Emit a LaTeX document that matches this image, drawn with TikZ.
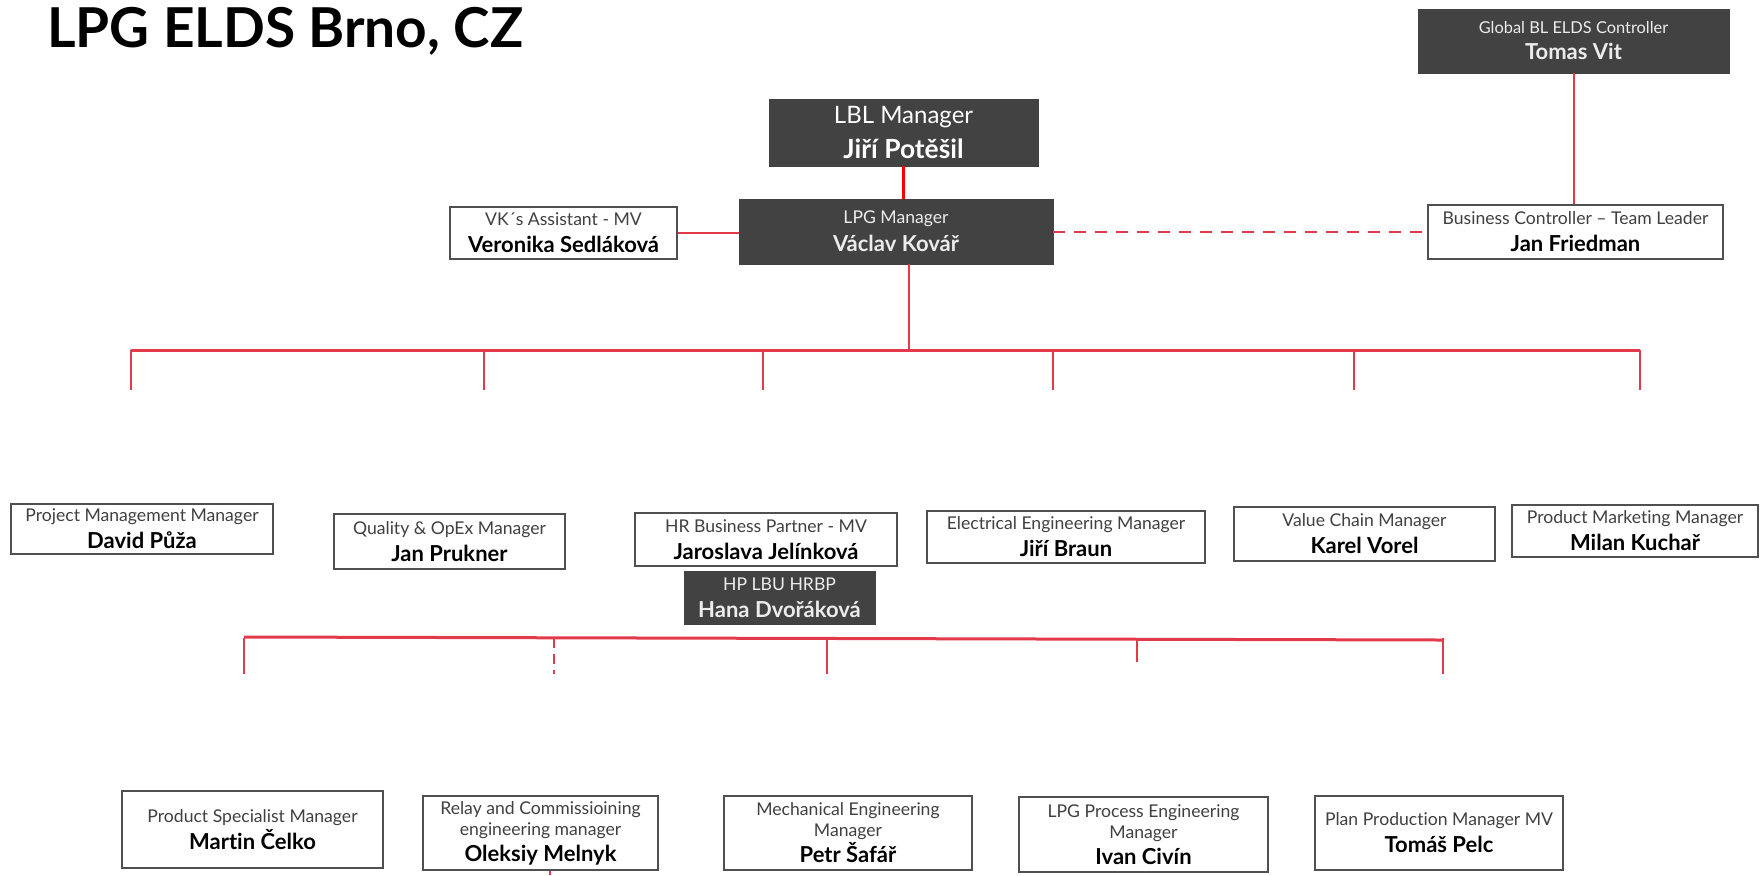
\documentclass[tikz,border=0pt]{standalone}
\usepackage{fontspec}
\setmainfont{Lato}[Ligatures={NoCommon}]
\usetikzlibrary{positioning}

\newlength{\du}
\setlength{\du}{0.5pt}

\definecolor{boxdark}{RGB}{66,66,66}
\definecolor{boxline}{RGB}{80,80,80}
\definecolor{linered}{RGB}{226,58,74}
\definecolor{rolegray}{RGB}{64,64,64}
\definecolor{lighttext}{RGB}{236,236,236}

% role on top, name in bold below
\newcommand{\rolefont}{\fontsize{8.8}{10.5}\selectfont}
\newcommand{\namefont}{\fontsize{11}{13}\selectfont\bfseries\color{black}}
\newcommand{\orgtext}[2]{{\rolefont #1}\\[1.5pt]{\namefont #2}}
\newcommand{\orgtextii}[3]{{\rolefont #1}\\[-1.5pt]{\rolefont #2}\\[1pt]{\namefont #3}}

\begin{document}
\begin{tikzpicture}[yscale=-1,
  whitebox/.style={draw=boxline, line width=2\du, fill=white, align=center,
    text=rolegray, inner sep=0pt},
  darkbox/.style={draw=boxdark, fill=boxdark, align=center, text=lighttext, inner sep=0pt},
  redline/.style={draw=linered, line width=2\du},
  busline/.style={draw=linered, line width=3\du}]
\useasboundingbox (0,0) rectangle (1760\du,875\du);

% title
\node[anchor=west, font=\fontsize{27.5}{32}\selectfont\bfseries] (title) at (40\du,31\du) {LPG ELDS Brno, CZ};

% top level
\node[darkbox, minimum width=311\du, minimum height=64\du] (glob) at (1573.5\du,41\du)
  {{\fontsize{8.2}{10}\selectfont Global BL ELDS Controller}\\[1pt]{\fontsize{11}{13}\selectfont\bfseries Tomas Vit}};
\node[darkbox, minimum width=269\du, minimum height=67\du, text=white] (lbl) at (903.5\du,132.5\du)
  {{\fontsize{12}{14}\selectfont LBL Manager}\\[5.5pt]{\fontsize{13.2}{15}\selectfont\bfseries Jiří Potěšil}};
\node[darkbox, minimum width=314\du, minimum height=65\du] (lpg) at (896\du,231.5\du)
  {{\fontsize{8.8}{10.5}\selectfont LPG Manager}\\[2pt]{\fontsize{11}{13}\selectfont\bfseries Václav Kovář}};
\node[whitebox, minimum width=227\du, minimum height=52\du] (vka) at (563.5\du,233\du)
  {\orgtext{VK´s Assistant - MV}{Veronika Sedláková}};
\node[whitebox, minimum width=295\du, minimum height=54\du] (bc) at (1575.5\du,232\du)
  {\orgtext{Business Controller – Team Leader}{Jan Friedman}};

\draw[redline] (vka.east) -- (vka.east -| lpg.west);
\draw[draw=red, line width=3\du] (lbl.south) -- (lbl.south |- lpg.north);
\draw[redline, dash pattern=on 12\du off 9\du] (lpg.east |- bc.west) -- (bc.west);
\draw[redline] (glob.south) -- (glob.south |- bc.north);

% first bus
\coordinate (bus1) at (909\du,350\du);
\coordinate (bus1L) at (131\du,350\du);
\coordinate (bus1R) at (1640\du,350\du);
\draw[redline] (bus1 |- lpg.south) -- (bus1);
\draw[busline] (bus1L) -- (bus1R);
\foreach \x/\n in {131/a,484/b,763/c,1053/d,1354/e,1640/f}{
  \coordinate (drop1\n) at (\x\du,390\du);
  \draw[redline] (drop1\n |- bus1) -- (drop1\n);
}

% second level
\node[whitebox, minimum width=262\du, minimum height=50\du] (pmm) at (142\du,529\du)
  {\orgtext{Project Management Manager}{David Půža}};
\node[whitebox, minimum width=231\du, minimum height=55\du] (qom) at (449.5\du,541.5\du)
  {\orgtext{Quality \& OpEx Manager}{Jan Prukner}};
\node[whitebox, minimum width=262\du, minimum height=53\du] (hrbp) at (766\du,539.5\du)
  {\orgtext{HR Business Partner - MV}{Jaroslava Jelínková}};
\node[darkbox, minimum width=191\du, minimum height=53\du] (hrd) at (779.5\du,597.5\du)
  {{\fontsize{8.8}{10.5}\selectfont HP LBU HRBP}\\[1.5pt]{\fontsize{11}{13}\selectfont\bfseries Hana Dvořáková}};
\node[whitebox, minimum width=278\du, minimum height=52\du] (eem) at (1066\du,537\du)
  {\orgtext{Electrical Engineering Manager}{Jiří Braun}};
\node[whitebox, minimum width=261\du, minimum height=54\du] (vcm) at (1364.5\du,534\du)
  {\orgtext{Value Chain Manager}{Karel Vorel}};
\node[whitebox, minimum width=246\du, minimum height=52\du] (pmkt) at (1635\du,531\du)
  {\orgtext{Product Marketing Manager}{Milan Kuchař}};

% second bus
\coordinate (bus2L) at (244\du,637\du);
\coordinate (bus2R) at (1443\du,640\du);
\draw[busline] (bus2L) -- (bus2R);
\foreach \x/\n/\y in {244/a/674,827/c/674,1137/d/662,1443/e/674}{
  \coordinate (drop2\n) at (\x\du,\y\du);
  \draw[redline] (\x\du,638\du) -- (drop2\n);
}
\coordinate (drop2b) at (554\du,674\du);
\draw[redline, dash pattern=on 10\du off 6\du] (554\du,638\du) -- (drop2b);

% third level
\node[whitebox, minimum width=261\du, minimum height=77\du] (psm) at (252.5\du,829.5\du)
  {\orgtext{Product Specialist Manager}{Martin Čelko}};
\node[whitebox, minimum width=235\du, minimum height=74\du] (rcm) at (540.5\du,833\du)
  {\orgtextii{Relay and Commissioining}{engineering manager}{Oleksiy Melnyk}};
\node[whitebox, minimum width=248\du, minimum height=74\du] (mem) at (848\du,833\du)
  {\orgtextii{Mechanical Engineering}{Manager}{Petr Šafář}};
\node[whitebox, minimum width=249\du, minimum height=75\du] (lpe) at (1143.5\du,834.5\du)
  {\orgtextii{LPG Process Engineering}{Manager}{Ivan Civín}};
\node[whitebox, minimum width=248\du, minimum height=74\du] (ppm) at (1439\du,833\du)
  {\orgtext{Plan Production Manager MV}{Tomáš Pelc}};

\coordinate (stub) at (550\du,875\du);
\draw[redline] (stub |- rcm.south) -- (stub);
\end{tikzpicture}
\end{document}
